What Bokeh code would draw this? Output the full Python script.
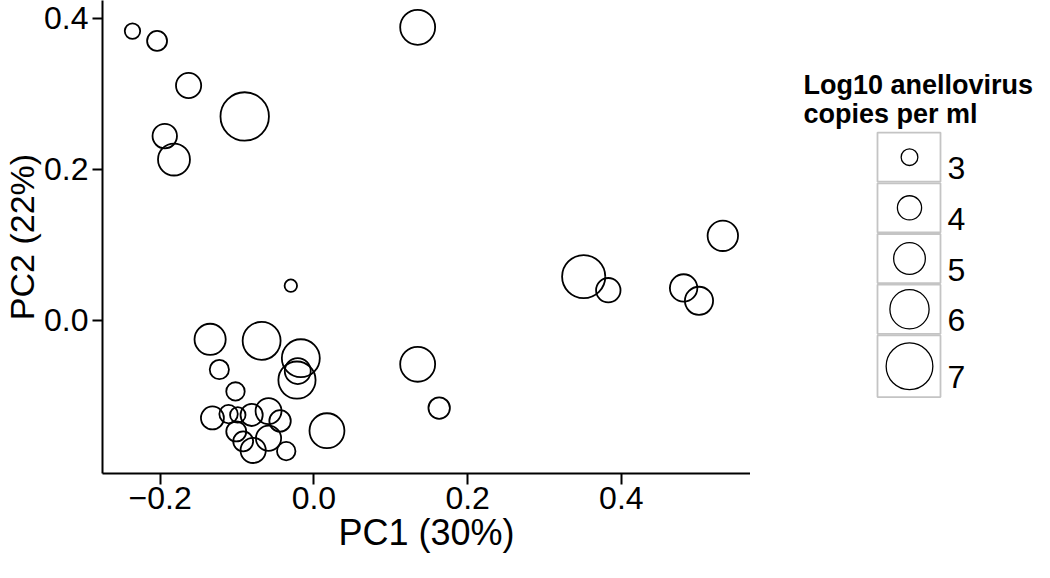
from bokeh.plotting import figure
from bokeh.layouts import row
from bokeh.models import Range1d, FixedTicker
from bokeh.core.properties import value
from bokeh.embed import file_html
from bokeh.resources import INLINE

# ---------------- data ----------------
pc1 = [-0.236, -0.204, -0.163, -0.090, -0.194, -0.182, 0.135,
       0.351, 0.383, 0.481, 0.501, 0.532, 0.135, 0.163, -0.030,
       -0.135, -0.068, -0.017, -0.022, -0.021, -0.123, -0.102, 0.017,
       -0.132, -0.111, -0.099, -0.081, -0.059, -0.044, -0.101, -0.092,
       -0.079, -0.059, -0.036]
pc2 = [0.383, 0.370, 0.311, 0.270, 0.244, 0.213, 0.388,
       0.058, 0.040, 0.043, 0.026, 0.112, -0.058, -0.116, 0.046,
       -0.025, -0.027, -0.050, -0.079, -0.067, -0.065, -0.094, -0.146,
       -0.129, -0.124, -0.125, -0.125, -0.120, -0.133, -0.147, -0.160,
       -0.172, -0.156, -0.173]
log10_copies = [2.9, 3.5, 4.2, 7.3, 4.1, 5.1, 5.5,
                6.6, 4.1, 4.5, 4.6, 4.9, 5.5, 3.7, 2.5,
                5.0, 5.9, 5.9, 5.8, 4.3, 3.4, 3.3, 5.5,
                3.9, 3.3, 2.9, 3.8, 4.3, 3.7, 3.5, 3.5,
                4.2, 4.2, 3.3]

x_ticks = [-0.2, 0.0, 0.2, 0.4]
x_tick_labels = ["\u22120.2", "0.0", "0.2", "0.4"]
y_ticks = [0.0, 0.2, 0.4]
y_tick_labels = ["0.0", "0.2", "0.4"]
x_label = "PC1 (30%)"
y_label = "PC2 (22%)"
legend_title = ["Log10 anellovirus", "copies per ml"]
legend_levels = [3, 4, 5, 6, 7]
legend_labels = ["3", "4", "5", "6", "7"]

# ---------------- styling / layout ----------------
FONT = value("Liberation Sans")
H = 562
FRAME_L, FRAME_R, FRAME_B = 97, 750, 473
BOTTOM = H - FRAME_B
X0, X1 = -0.275, 0.568
Y0, Y1 = -0.2026, 0.4235
LW = 1.8


def diameter(v):
    # circle diameter (px) for a log10 value
    return 18 + 7.5 * (v - 3)


# ---- main scatter ----
p = figure(width=FRAME_R, height=H,
           x_range=Range1d(X0, X1), y_range=Range1d(Y0, Y1),
           output_backend="svg", toolbar_location=None,
           min_border_left=FRAME_L, min_border_right=0,
           min_border_top=0, min_border_bottom=BOTTOM)
p.grid.visible = False
p.outline_line_color = None
p.background_fill_color = "white"
p.border_fill_color = "white"

p.xaxis.ticker = FixedTicker(ticks=x_ticks)
p.yaxis.ticker = FixedTicker(ticks=y_ticks)
p.xaxis.major_label_overrides = dict(zip(x_ticks, x_tick_labels))
p.yaxis.major_label_overrides = dict(zip(y_ticks, y_tick_labels))
for ax in (p.xaxis[0], p.yaxis[0]):
    ax.axis_line_color = "black"
    ax.axis_line_width = 2
    ax.major_tick_line_color = "black"
    ax.major_tick_line_width = 2
    ax.major_tick_in = 0
    ax.minor_tick_line_color = None
    ax.major_label_text_font = "Liberation Sans"
    ax.major_label_text_font_size = "32px"
    ax.major_label_text_color = "black"
    ax.axis_label_text_font = "Liberation Sans"
    ax.axis_label_text_font_style = "normal"
    ax.axis_label_text_color = "black"
    ax.axis_label_standoff = 0
p.xaxis.major_tick_out = 11
p.yaxis.major_tick_out = 10
p.xaxis.major_label_standoff = 2
p.yaxis.major_label_standoff = 4

p.xaxis.axis_label = x_label
p.xaxis.axis_label_text_font_size = "36px"
p.yaxis.axis_label = y_label
p.yaxis.axis_label_text_font_size = "34px"

sizes = [diameter(v) - LW for v in log10_copies]
p.scatter(pc1, pc2, size=sizes, marker="circle", fill_color=None,
          line_color="black", line_width=LW)

# ---- legend panel ----
LG_W = 1034 - FRAME_R
OFF = 758  # reference x of legend panel left edge
lg = figure(width=LG_W, height=H, x_range=Range1d(0, LG_W),
            y_range=Range1d(BOTTOM, H), output_backend="svg",
            toolbar_location=None, min_border=0, min_border_bottom=BOTTOM,
            x_axis_location=None, y_axis_location=None)
lg.grid.visible = False
lg.outline_line_color = None

lg.text(x=[811 - OFF] * 2, y=[H - 84, H - 113.5], text=legend_title,
        text_font=FONT, text_font_style="bold", text_font_size="27px",
        text_baseline="alphabetic", text_align="left", text_color="black")

key_h = [50.7, 50.7, 50.7, 50.7, 63.3]
key_top0 = 131.3
tops, bottoms, centers = [], [], []
t = key_top0
for h in key_h:
    tops.append(H - t - 0.8)
    bottoms.append(H - (t + h) + 0.8)
    centers.append(H - (t + h / 2))
    t += h
key_l, key_r = 885 - OFF, 948 - OFF
lg.quad(left=key_l, right=key_r, top=tops, bottom=bottoms,
        fill_color="white", line_color="#c4c4c4", line_width=1.8)
lg.scatter([917 - OFF] * len(legend_levels), centers,
           size=[diameter(v) - 1.3 for v in legend_levels], marker="circle",
           fill_color=None, line_color="black", line_width=1.3)
lg.text(x=[955 - OFF] * len(legend_levels), y=[c - 11 for c in centers],
        text=legend_labels, text_font=FONT, text_font_size="32px",
        text_baseline="alphabetic", text_align="left", text_color="black")

layout = row(p, lg)
open("out.html", "w").write(file_html(layout, INLINE))
